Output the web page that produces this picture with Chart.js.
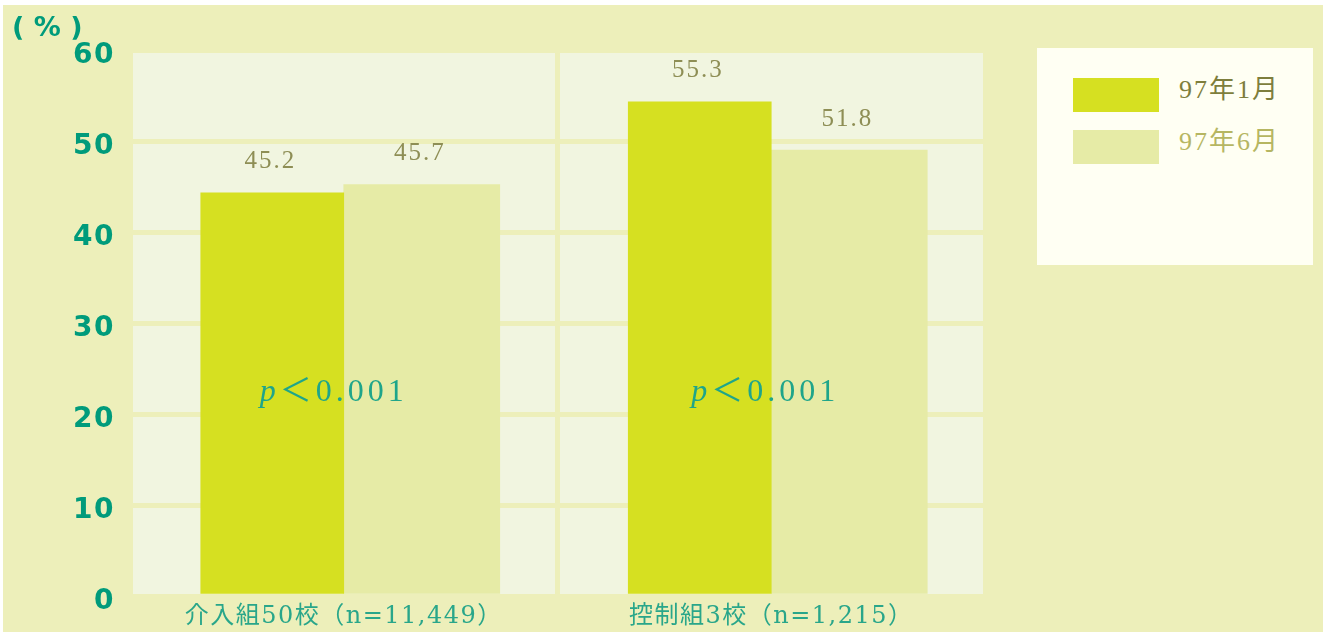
<!DOCTYPE html>
<html>
<head>
<meta charset="utf-8">
<script src="https://cdn.jsdelivr.net/npm/chart.js@4/dist/chart.umd.min.js"></script>
<style>
  html,body{margin:0;padding:0;background:#ffffff;}
  #wrap{position:absolute;left:0;top:0;width:1323px;height:632px;}
  #pct{position:absolute;left:12px;top:11px;font:bold 27px "DejaVu Sans",sans-serif;color:#009B7B;white-space:pre;}
  #legend{position:absolute;left:1037px;top:48px;width:276px;height:217px;background:#FFFFF3;}
  .item{position:absolute;left:36px;height:34px;}
  .sw{position:absolute;left:0;top:0;width:86px;height:34px;}
  .lt{position:absolute;left:106px;top:-10px;font:26px "Liberation Serif","Noto Sans CJK JP",serif;letter-spacing:2px;white-space:nowrap;}
</style>
</head>
<body>
<div id="wrap"><canvas id="c" width="1323" height="632"></canvas></div>
<div id="pct">( % )</div>
<div id="legend"></div>
<script>
// ---- data ----
const categories = ['介入組50校（n=11,449）', '控制組3校（n=1,215）'];
const seriesNames = ['97年1月', '97年6月'];
// bar heights as drawn in the picture
const janValues = [44.3, 54.3];
const junValues = [45.2, 49.0];
// values printed above the bars
const janLabels = ['45.2', '55.3'];
const junLabels = ['45.7', '51.8'];
const pLabels = ['0.001', '0.001'];
const yMin = 0, yMax = 60, yStep = 10;

const colJan = '#D6E021', colJun = '#E6EBA6';
const outerBg = '#EDEFBA', panelBg = '#F1F5E0';
const legendTextColors = ['#7E7E3C', '#B6B662'];

// legend (HTML)
const lg = document.getElementById('legend');
[colJan, colJun].forEach((c, i) => {
  const it = document.createElement('div');
  it.className = 'item';
  it.style.top = (30 + i * 52) + 'px';
  it.innerHTML = '<div class="sw" style="background:' + c + '"></div><div class="lt" style="color:' + legendTextColors[i] + '">' + seriesNames[i] + '</div>';
  lg.appendChild(it);
});

const bgPlugin = {
  id: 'bg',
  beforeDraw(chart) {
    const ctx = chart.ctx, a = chart.chartArea;
    ctx.save();
    ctx.fillStyle = outerBg;
    ctx.fillRect(3, 5, chart.width - 3, chart.height - 5);
    ctx.fillStyle = panelBg;
    ctx.fillRect(a.left, a.top, a.right - a.left, a.bottom - a.top);
    ctx.restore();
    ctx.letterSpacing = '1.5px';
  },
  beforeDatasetsDraw(chart) {
    chart.ctx.letterSpacing = '0px';
  },
  afterDatasetsDraw(chart) {
    const ctx = chart.ctx;
    const y = chart.scales.y;
    ctx.save();
    // value labels
    ctx.font = '25px "Liberation Serif","DejaVu Serif",serif';
    ctx.letterSpacing = '2px';
    ctx.fillStyle = '#8E8E55';
    ctx.textAlign = 'center';
    ctx.textBaseline = 'middle';
    const labelSets = [janLabels, junLabels];
    chart.data.datasets.forEach((ds, di) => {
      chart.getDatasetMeta(di).data.forEach((bar, i) => {
        ctx.fillText(labelSets[di][i], bar.x - 2, bar.y - 31);
      });
    });
    // p < 0.001
    const xs = chart.scales.x;
    ctx.fillStyle = '#1FA58A';
    ctx.textAlign = 'left';
    ctx.letterSpacing = '4px';
    categories.forEach((c, i) => {
      const cx = xs.getPixelForValue(i) - (i === 0 ? 10 : 6);
      const cy = y.getPixelForValue(22.4);
      ctx.font = 'italic 32px "Liberation Serif","DejaVu Serif",serif';
      const p = 'p';
      const rest = '＜' + pLabels[i];
      const wp = ctx.measureText(p).width;
      ctx.font = '32px "Liberation Serif","Noto Sans CJK JP",serif';
      const wr = ctx.measureText(rest).width;
      let x0 = cx - (wp + wr) / 2;
      ctx.font = 'italic 32px "Liberation Serif","DejaVu Serif",serif';
      ctx.fillText(p, x0, cy);
      ctx.font = '32px "Liberation Serif","Noto Sans CJK JP",serif';
      ctx.fillText(rest, x0 + wp, cy);
    });
    ctx.restore();
  }
};

new Chart(document.getElementById('c'), {
  type: 'bar',
  data: {
    labels: categories,
    datasets: [
      { label: seriesNames[0], data: janValues, backgroundColor: colJan, barThickness: 143 },
      { label: seriesNames[1], data: junValues, backgroundColor: colJun, barThickness: 156 }
    ]
  },
  options: {
    responsive: false,
    animation: false,
    devicePixelRatio: 1,
    layout: { padding: { top: 50, right: 338, left: 0, bottom: 0 } },
    plugins: { legend: { display: false }, tooltip: { enabled: false } },
    categoryPercentage: 0.7,
    barPercentage: 1,
    scales: {
      x: {
        offset: true,
        grid: { offset: true, color: outerBg, lineWidth: 5, drawTicks: false },
        border: { display: false },
        ticks: {
          color: '#29A68A',
          padding: 6,
          maxRotation: 0,
          font: { family: '"DejaVu Serif","Noto Sans CJK JP",serif', size: 24 }
        },
        afterFit(s) { s.height = 36; }
      },
      y: {
        min: yMin, max: yMax,
        grid: { color: outerBg, lineWidth: 5, drawTicks: false },
        border: { display: false },
        ticks: {
          stepSize: yStep,
          color: '#009B7B',
          padding: 15,
          labelOffset: 6,
          font: { family: '"DejaVu Sans",sans-serif', size: 28, weight: 'bold' }
        },
        afterFit(s) { s.width = 130; }
      }
    }
  },
  plugins: [bgPlugin]
});
</script>
</body>
</html>
